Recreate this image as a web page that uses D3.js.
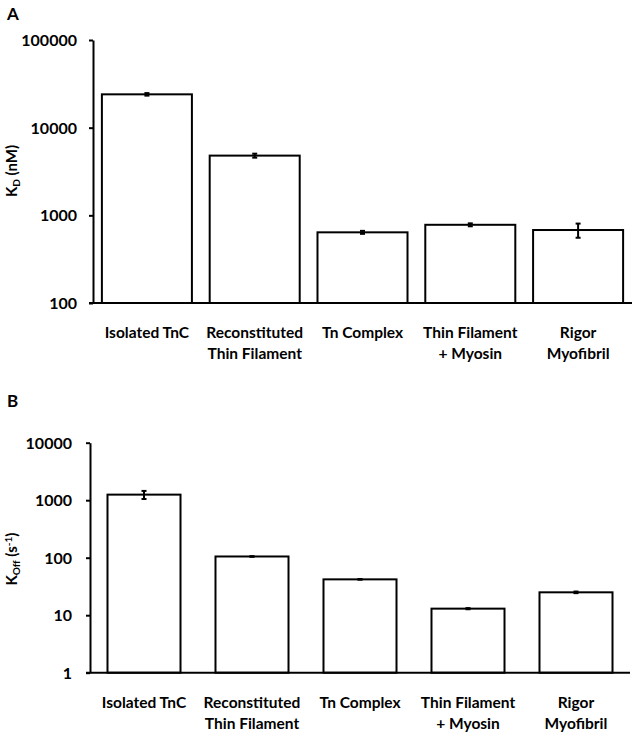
<!DOCTYPE html>
<html>
<head>
<meta charset="utf-8">
<script src="https://cdn.jsdelivr.net/npm/d3@7/dist/d3.min.js"></script>
<style>
  html, body { margin: 0; padding: 0; background: #fff; }
  svg { display: block; }
  text { font-family: Lato, "Open Sans", sans-serif; font-weight: bold; fill: #000; }
</style>
</head>
<body>
<div id="chart"></div>
<script>
// ---- data ----
const categories = [
  ["Isolated TnC"],
  ["Reconstituted", "Thin Filament"],
  ["Tn Complex"],
  ["Thin Filament", "+ Myosin"],
  ["Rigor", "Myofibril"]
];
const kdValues = [24000, 4800, 640, 780, 680];
const kdErrors = [800, 250, 25, 30, 125];
const kdTicks = [100, 1000, 10000, 100000];

const koffValues = [1250, 105, 42, 13, 25];
const koffErrors = [200, 1.5, 0.6, 0.3, 0.8];
const koffTicks = [1, 10, 100, 1000, 10000];

const W = 636, H = 739;
const svg = d3.select("#chart").append("svg").attr("width", W).attr("height", H);

function panel(opts) {
  const { letter, letterY, values, errors, ticks, yDomain, yRange, xRange,
          padInner, padOuter, tickPad, labelY, titleY, titleParts } = opts;
  const g = svg.append("g");
  const keys = categories.map((c, i) => i);
  const x = d3.scaleBand().domain(keys).range(xRange)
    .paddingInner(padInner).paddingOuter(padOuter);
  const y = d3.scaleLog().domain(yDomain).range(yRange);
  const base = yRange[0];

  // bars
  g.selectAll("rect.bar").data(values).join("rect")
    .attr("class", "bar")
    .attr("x", (d, i) => x(i))
    .attr("width", x.bandwidth())
    .attr("y", d => y(d))
    .attr("height", d => base - y(d))
    .attr("fill", "#fff").attr("stroke", "#000").attr("stroke-width", 2);

  // error bars
  const eb = g.selectAll("g.err").data(values).join("g").attr("class", "err");
  eb.append("line")
    .attr("x1", (d, i) => x(i) + x.bandwidth() / 2)
    .attr("x2", (d, i) => x(i) + x.bandwidth() / 2)
    .attr("y1", (d, i) => y(d + errors[i]))
    .attr("y2", (d, i) => y(d - errors[i]))
    .attr("stroke", "#000").attr("stroke-width", 2);
  [1, -1].forEach(s => {
    eb.append("line")
      .attr("x1", (d, i) => x(i) + x.bandwidth() / 2 - 2.5)
      .attr("x2", (d, i) => x(i) + x.bandwidth() / 2 + 2.5)
      .attr("y1", (d, i) => y(d + s * errors[i]))
      .attr("y2", (d, i) => y(d + s * errors[i]))
      .attr("stroke", "#000").attr("stroke-width", 2);
  });

  // y axis
  const ax = g.append("g").attr("transform", `translate(${xRange[0]},0)`)
    .call(d3.axisLeft(y).tickValues(ticks).tickFormat(d3.format("d"))
      .tickSize(4).tickSizeOuter(0).tickPadding(tickPad));
  ax.select(".domain").attr("stroke", "#000").attr("stroke-width", 2);
  ax.selectAll(".tick line").attr("stroke", "#000").attr("stroke-width", 2);
  ax.selectAll(".tick text").attr("font-size", 16).attr("font-family", "Lato")
    .attr("font-weight", "bold").attr("dy", "0.34em");

  // x axis line
  g.append("line").attr("x1", xRange[0] - 4).attr("x2", xRange[1])
    .attr("y1", base).attr("y2", base)
    .attr("stroke", "#000").attr("stroke-width", 2);

  // category labels
  const lbl = g.selectAll("text.cat").data(categories).join("text")
    .attr("class", "cat").attr("text-anchor", "middle").attr("font-size", 15.5)
    .attr("transform", (d, i) => `translate(${x(i) + x.bandwidth() / 2},${labelY})`);
  lbl.selectAll("tspan").data(d => d).join("tspan")
    .attr("x", 0).attr("y", (d, j) => j * 21.7).text(d => d);

  // y title
  const t = g.append("text").attr("text-anchor", "middle").attr("font-size", 15)
    .attr("transform", `translate(17,${titleY}) rotate(-90)`);
  titleParts.forEach(p => {
    const ts = t.append("tspan").text(p.t).attr("font-size", p.f || 15);
    if (p.s) ts.attr("dy", p.s);
  });

  // panel letter
  svg.append("text").attr("x", 7).attr("y", letterY)
    .attr("font-family", "Liberation Sans, Arial, sans-serif")
    .attr("font-size", 17).attr("font-weight", "bold").text(letter);
}

panel({
  letter: "A", letterY: 20,
  values: kdValues, errors: kdErrors, ticks: kdTicks,
  yDomain: [100, 100000], yRange: [303, 40], xRange: [93, 632],
  padInner: 0.165, padOuter: 0.0825, tickPad: 12, labelY: 337.5, titleY: 171,
  titleParts: [{ t: "K" }, { t: "D", s: "3", f: 10 }, { t: " (nM)", s: "-3" }]
});

panel({
  letter: "B", letterY: 407,
  values: koffValues, errors: koffErrors, ticks: koffTicks,
  yDomain: [1, 10000], yRange: [672.7, 442.7], xRange: [90, 630],
  padInner: 0.324, padOuter: 0.162, tickPad: 14, labelY: 707.5, titleY: 559,
  titleParts: [{ t: "K" }, { t: "Off", s: "3", f: 10 }, { t: " (s", s: "-3" }, { t: "-1", s: "-5", f: 10 }, { t: ")", s: "5" }]
});
</script>
</body>
</html>
